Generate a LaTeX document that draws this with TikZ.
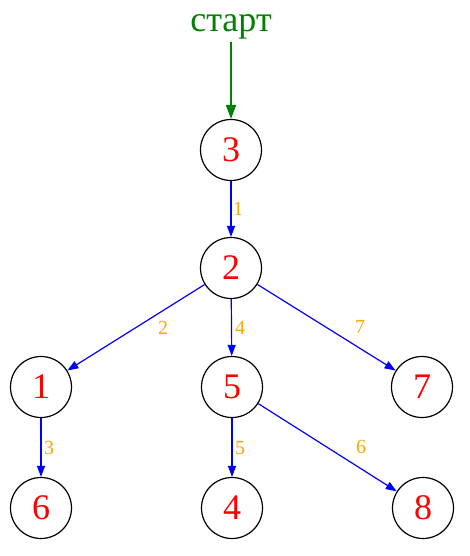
\documentclass[tikz,border=0pt]{standalone}
\usepackage{fontspec}
\setmainfont{Liberation Serif}
\usetikzlibrary{arrows.meta}
\definecolor{gvgreen}{RGB}{0,128,0}
\definecolor{gvorange}{RGB}{255,165,0}
\begin{document}
\begin{tikzpicture}[x=1pt,y=1pt,
  vert/.style={circle,draw=black,line width=1.2pt,minimum size=61pt,inner sep=0pt,text=red,font=\fontsize{36}{40}\selectfont},
  edg/.style={draw=blue,line width=1.2pt,-{Triangle[length=11pt,width=8pt]}},
  lbl/.style={text=gvorange,font=\fontsize{20}{22}\selectfont,inner sep=0pt}]
\useasboundingbox (0,0) rectangle (469,-556);
\node[text=gvgreen,font=\fontsize{36}{40}\selectfont,inner sep=0pt,anchor=base] (s) at (231,-32) {старт};
\node[vert] (n3) at (231,-150) {3};
\node[vert] (n2) at (231,-268) {2};
\node[vert] (n1) at (41,-387) {1};
\node[vert] (n5) at (232,-387) {5};
\node[vert] (n7) at (422,-387) {7};
\node[vert] (n6) at (41,-508) {6};
\node[vert] (n4) at (232,-508) {4};
\node[vert] (n8) at (423,-508) {8};
\coordinate (s0) at (231,-42);
\draw[draw=gvgreen,line width=2pt,-{Triangle[length=14pt,width=10pt]}] (s0) -- (n3);
\path[edg] (n3) -- (n2) node[lbl,at={(238,-209)}] (l1) {1};
\path[edg] (n2) -- (n1) node[lbl,at={(163,-328)}] (l2) {2};
\path[edg] (n2) -- (n5) node[lbl,at={(240,-328)}] (l4) {4};
\path[edg] (n2) -- (n7) node[lbl,at={(360,-327)}] (l7) {7};
\path[edg] (n1) -- (n6) node[lbl,at={(49,-448)}] (l3) {3};
\path[edg] (n5) -- (n4) node[lbl,at={(240,-448)}] (l5) {5};
\path[edg] (n5) -- (n8) node[lbl,at={(361,-447)}] (l6) {6};
\end{tikzpicture}
\end{document}
